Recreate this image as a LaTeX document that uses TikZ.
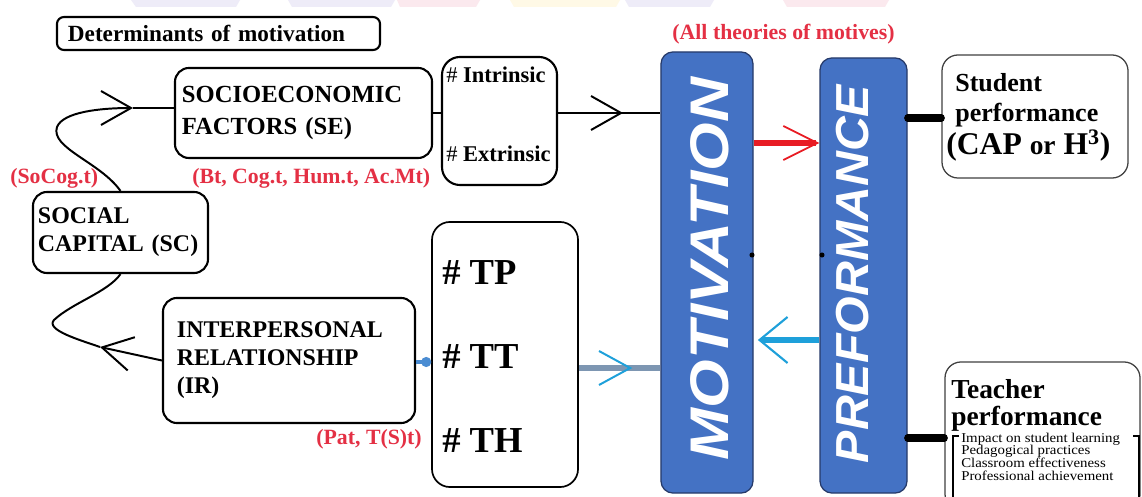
\documentclass[tikz,border=0pt]{standalone}
\usepackage{fontspec}
\setmainfont{Liberation Serif}
\newfontfamily\barfont{Liberation Sans}
\usetikzlibrary{arrows.meta,decorations.markings}

\definecolor{barblue}{RGB}{68,114,196}
\definecolor{baredge}{RGB}{38,58,105}
\definecolor{labelred}{RGB}{228,48,68}
\definecolor{arrowred}{RGB}{232,28,36}
\definecolor{arrowcyan}{RGB}{30,160,218}
\definecolor{linkgrey}{RGB}{125,150,178}
\definecolor{linkblue}{RGB}{74,140,210}
\definecolor{washlav}{RGB}{238,236,248}
\definecolor{washpink}{RGB}{251,233,238}
\definecolor{washyel}{RGB}{255,249,230}

\tikzset{
  rbox/.style={draw, line width=1.5pt, rounded corners=0.35cm, inner ysep=0pt},
  lbox/.style={draw=black!75, line width=0.9pt, rounded corners=0.4cm, inner sep=0pt},
  bar/.style={fill=barblue, draw=baredge, line width=0.9pt, rounded corners=0.3cm, inner sep=0pt},
  redlabel/.style={text=labelred, font=\fontsize{15.5}{17}\selectfont\bfseries, inner sep=0pt},
  boxtext/.style={font=\fontsize{17}{20}\selectfont\bfseries, align=left},
  hashtext/.style={anchor=base west, inner sep=0pt},
  bartext/.style={text=white, rotate=90, inner sep=0pt},
  plainlink/.style={line width=1.4pt},
  heavylink/.style={line width=5pt, line cap=round},
  blackbarb/.tip={Straight Barb[length=0.75cm, width=0.85cm, line width=1.4pt]},
  redbarb/.tip={Straight Barb[length=0.85cm, width=0.85cm, line width=1.3pt, color=arrowred]},
  cyanbarb/.tip={Straight Barb[length=0.7cm, width=1.15cm, line width=1.5pt, color=arrowcyan]},
  tealbarb/.tip={Straight Barb[length=0.78cm, width=0.85cm, line width=1.4pt, color=arrowcyan]},
  midbarb/.style 2 args={postaction={decorate},
    decoration={markings, mark=at position #1 with {\arrow{#2}}}},
}

\begin{document}
\begin{tikzpicture}[x=0.025cm, y=-0.025cm]
\clip (0,0) rectangle (1142,497);
\fill[white] (0,0) rectangle (1142,497);

% faint wash along the upper edge
\fill[washlav]  (131,0) -- (240,0) -- (236,7) -- (136,7) -- cycle;
\fill[washlav]  (288,0) -- (395,0) -- (391,7) -- (292,7) -- cycle;
\fill[washpink] (397,0) -- (480,0) -- (476,7) -- (400,7) -- cycle;
\fill[washyel]  (510,0) -- (620,0) -- (616,7) -- (514,7) -- cycle;
\fill[washlav]  (625,0) -- (714,0) -- (710,7) -- (629,7) -- cycle;
\fill[washpink] (783,0) -- (889,0) -- (885,7) -- (787,7) -- cycle;

% ---------- determinant boxes ----------
\node[rbox, rounded corners=5pt, minimum height=0.825cm, inner xsep=0.275cm,
      text width=7.525cm, font=\fontsize{16.5}{18}\selectfont\bfseries]
  (det) at (218.5,33.5) {Determinants of motivation};

\node[rbox, minimum height=2.25cm, inner xsep=0.175cm, text width=6.075cm, boxtext,
      font=\fontsize{17.5}{23}\selectfont\bfseries]
  (se) at (303.5,113) {SOCIOECONOMIC\\FACTORS~(SE)};

\node[rbox, minimum height=2.025cm, inner xsep=0.125cm, text width=4.125cm, boxtext]
  (sc) at (120.5,232.5) {SOCIAL\\CAPITAL~(SC)};

\node[rbox, minimum height=3.125cm, inner xsep=0.35cm, text width=5.6cm, boxtext]
  (ir) at (289,360.5) {INTERPERSONAL\\RELATIONSHIP\\(IR)};

% motive types
\node[rbox, rounded corners=0.45cm, minimum width=2.875cm, minimum height=3.2cm, inner sep=0pt]
  (ii) at (499.5,121) {};
\node[hashtext, font=\fontsize{16}{18}\selectfont] (intr) at (446,83) {\# \textbf{Intrinsic}};
\node[hashtext, font=\fontsize{16}{18}\selectfont] (extr) at (446,162) {\# \textbf{Extrinsic}};

\node[rbox, line width=1.2pt, rounded corners=0.45cm, minimum width=3.65cm, minimum height=6.625cm, inner sep=0pt]
  (tp) at (505,354.5) {};
\node[hashtext, font=\fontsize{26}{28}\selectfont\bfseries] (tpa) at (442,285) {\# TP};
\node[hashtext, font=\fontsize{26}{28}\selectfont\bfseries] (tpb) at (442,368) {\# TT};
\node[hashtext, font=\fontsize{26}{28}\selectfont\bfseries] (tpc) at (442,452) {\# TH};

% red notes
\node[redlabel, anchor=base west] (nsc) at (10,184) {(SoCog.t)};
\node[redlabel, anchor=base west] (nse) at (192,184) {(Bt, Cog.t, Hum.t, Ac.Mt)};
\node[redlabel, anchor=base east] (nir) at (422,444) {(Pat, T(S)t)};
\node[redlabel, anchor=base] (nall) at (783.5,40) {(All theories of motives)};

% ---------- the two bars ----------
\node[bar, minimum width=2.3cm, minimum height=11.025cm] (mot) at (707,272.5) {};
\node[bar, minimum width=2.175cm, minimum height=10.875cm] (perf) at (863.5,275.5) {};
\node[bartext] (motlbl) at (710,269)
  {\resizebox{272pt}{27pt}{\barfont\bfseries\itshape MOTIVATION}};
\node[bartext] (perflbl) at (853,274)
  {\resizebox{269pt}{23pt}{\barfont\bfseries\itshape PREFORMANCE}};
\fill (752,255) circle (1.8pt);
\fill (822,255) circle (1.8pt);

% ---------- outcome boxes ----------
\node[lbox, minimum width=4.65cm, minimum height=3.075cm] (stu) at (1035,116.5) {};
\node[hashtext, font=\fontsize{18.5}{20}\selectfont\bfseries] (stua) at (955,92) {Student};
\node[hashtext, font=\fontsize{18.5}{20}\selectfont\bfseries] (stub) at (955,122) {performance};
\node[hashtext, font=\fontsize{22.5}{24}\selectfont\bfseries] (stuc) at (946,155) {(CAP {\fontsize{19.5}{20}\selectfont or} H\textsuperscript{3})};

\node[lbox, minimum width=4.875cm, minimum height=3.7cm] (tea) at (1042.5,436) {};
\node[hashtext, font=\fontsize{19.5}{21}\selectfont\bfseries] (teaa) at (951,398) {Teacher};
\node[hashtext, font=\fontsize{19.5}{21}\selectfont\bfseries] (teab) at (951,425) {performance};
\foreach \t [count=\i] in {Impact on student learning, Pedagogical practices,
                           Classroom effectiveness, Professional achievement}
  \node[hashtext, font=\fontsize{9.6}{10}\selectfont] (tl\i) at (961,{442+12.8*(\i-1)})
    {\scalebox{1.1}[1]{\t}};
\draw[line width=2pt] (959,436) -- (953,436) -- (953,500);
\draw[line width=2pt] (1133,436) -- (1139,436) -- (1139,500);

% ---------- rows used by the connectors ----------
\coordinate (rowA) at (0,113);
\coordinate (rowR) at (0,143);
\coordinate (rowS) at (0,118);
\coordinate (rowC) at (0,340);
\coordinate (rowT) at (0,368);
\coordinate (rowB) at (0,362);
\coordinate (rowE) at (0,438);
\coordinate (seIn) at (133,108);
\coordinate (scIn) at (100,347);

% ---------- connectors ----------
\draw[plainlink] (se.east |- rowA) -- (ii.west |- rowA);
\draw[plainlink, midbarb={0.635}{blackbarb}] (ii.east |- rowA) -- (mot.west |- rowA);

\draw[plainlink, -{blackbarb}] (sc.north) .. controls (100,162) and (50,148) .. (57,127)
  .. controls (63,112) and (100,108) .. (seIn);
\draw[plainlink] (seIn) -- (se.west |- seIn);

\draw[plainlink, -{blackbarb}] (ir.west) -- (scIn);
\draw[plainlink] (scIn) .. controls (80,340) and (45,330) .. (54,320)
  .. controls (72,303) and (108,292) .. (sc.south);

\draw[linkblue, line width=3pt, -{Circle[length=7pt]}] (ir.east |- rowB) -- (tp.west |- rowB);
\draw[linkgrey, line width=4.5pt, midbarb={0.655}{tealbarb}] (tp.east |- rowT) -- (mot.west |- rowT);

\draw[arrowred, line width=4.5pt, -{redbarb}] (mot.east |- rowR) -- (perf.west |- rowR);
\draw[arrowcyan, line width=4.5pt, -{cyanbarb}] (perf.west |- rowC) -- ([xshift=3pt]mot.east |- rowC);

\draw[heavylink] (perf.east |- rowS) -- (stu.west |- rowS);
\draw[heavylink] (perf.east |- rowE) -- (tea.west |- rowE);
\end{tikzpicture}
\end{document}
